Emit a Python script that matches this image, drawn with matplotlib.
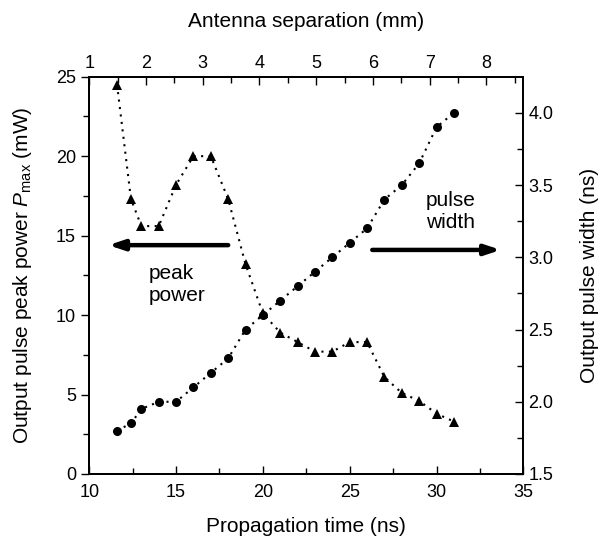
import numpy as np
import matplotlib
matplotlib.use('Agg')
import matplotlib.pyplot as plt

plt.rcParams['font.family'] = ['Liberation Sans', 'DejaVu Sans']
plt.rcParams['mathtext.fontset'] = 'custom'
plt.rcParams['mathtext.rm'] = 'Liberation Sans'
plt.rcParams['mathtext.it'] = 'Liberation Sans:italic'

# propagation time (ns)
t = [11.6, 12.4, 13, 14, 15, 16, 17, 18, 19, 20, 21, 22, 23, 24, 25, 26,
     27, 28, 29, 30, 31]
# output pulse peak power (mW)
p_max = [24.5, 17.3, 15.6, 15.6, 18.2, 20.0, 20.0, 17.3, 13.2, 10.1, 8.9,
         8.3, 7.7, 7.7, 8.3, 8.3, 6.1, 5.1, 4.6, 3.8, 3.3]
# output pulse width (ns)
width = [1.80, 1.85, 1.95, 2.0, 2.0, 2.1, 2.2, 2.3, 2.5, 2.6, 2.7, 2.8,
         2.9, 3.0, 3.1, 3.2, 3.4, 3.5, 3.65, 3.9, 4.0]

fig = plt.figure(figsize=(5.98, 5.44), dpi=100)
ax = fig.add_axes([0.1493, 0.1287, 0.7258, 0.7303])
ax2 = ax.twinx()
ax3 = ax.twiny()

dots = (0, (1, 2.6))
ax.plot(t, p_max, linestyle=dots, color='k', lw=1.5, marker='^', ms=7.5,
        markeredgewidth=0)
ax2.plot(t, width, linestyle=dots, color='k', lw=1.5, marker='o', ms=6.5,
         markeredgewidth=0)

ax.set_xlim(10, 35)
ax.set_ylim(0, 25)
ax2.set_ylim(1.5, 4.25)
ax3.set_xlim(1, 8.65)

ax.set_xticks(np.arange(10, 36, 5))
ax.set_xticks(np.arange(12.5, 35, 5), minor=True)
ax.set_yticks(np.arange(0, 26, 5))
ax.set_yticks(np.arange(2.5, 25, 5), minor=True)
ax2.set_yticks([1.5, 2.0, 2.5, 3.0, 3.5, 4.0])
ax2.set_yticks([1.75, 2.25, 2.75, 3.25, 3.75], minor=True)
ax3.set_xticks(np.arange(1, 9, 1))
ax3.set_xticks(np.arange(1.5, 8.6, 1), minor=True)
ax2.yaxis.set_major_formatter(matplotlib.ticker.FormatStrFormatter('%.1f'))

fs_tick = 13
fs_lab = 15
ax.tick_params(axis='x', which='both', direction='in', labelsize=fs_tick,
               pad=7)
ax.tick_params(axis='y', which='both', direction='out', labelsize=fs_tick)
ax2.tick_params(axis='y', which='both', direction='in', labelsize=fs_tick)
ax3.tick_params(axis='x', which='both', direction='in', labelsize=fs_tick)
for a in (ax, ax2, ax3):
    a.tick_params(which='major', length=6, width=1)
    a.tick_params(which='minor', length=4, width=1)
    for s in a.spines.values():
        s.set_linewidth(1.2)

ax.set_xlabel('Propagation time (ns)', fontsize=fs_lab, labelpad=12)
ax.set_ylabel(r'Output pulse peak power $P_{\mathrm{max}}$ (mW)',
              fontsize=fs_lab, labelpad=16)
ax2.set_ylabel('Output pulse width (ns)', fontsize=fs_lab, labelpad=19)
ax3.set_xlabel('Antenna separation (mm)', fontsize=fs_lab, labelpad=20)

arrow = dict(arrowstyle='-|>,head_length=0.9,head_width=0.3', lw=3.2,
             color='k', capstyle='round', shrinkA=0, shrinkB=0)
ax.annotate('', xy=(11.1, 14.4), xytext=(18.0, 14.4), arrowprops=arrow)
ax.annotate('', xy=(33.7, 14.1), xytext=(26.3, 14.1), arrowprops=arrow)
ax.text(13.4, 13.2, 'peak\npower', fontsize=fs_lab, ha='left', va='top',
        linespacing=1.2)
ax.text(29.4, 17.8, 'pulse\nwidth', fontsize=fs_lab, ha='left', va='top',
        linespacing=1.2)

fig.savefig('out.png', dpi=100)
